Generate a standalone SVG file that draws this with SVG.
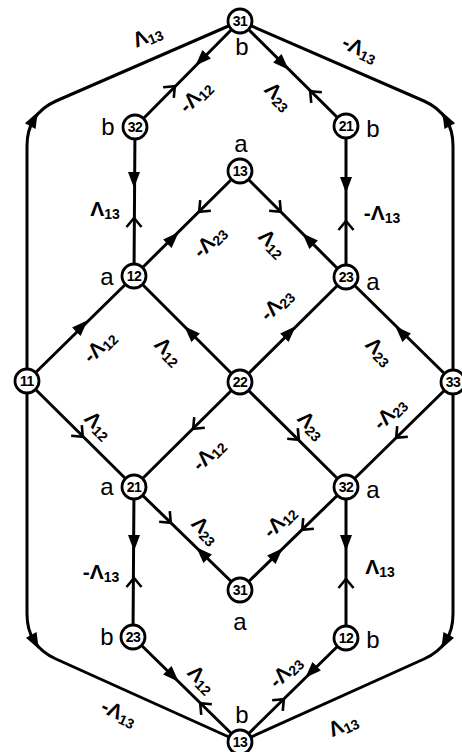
<svg xmlns="http://www.w3.org/2000/svg" xmlns:xlink="http://www.w3.org/1999/xlink" width="462" height="752" viewBox="0 0 462 752">
<style>
.e{fill:none;stroke:#000;stroke-width:3;stroke-linejoin:round}
.n circle{fill:#fff;stroke:#000;stroke-width:2.8}
.n text{font-family:"Liberation Sans",Arial,sans-serif;font-weight:bold;font-size:14px;text-anchor:middle;letter-spacing:-0.5px}
.s{font-family:"Liberation Sans",Arial,sans-serif;font-size:24px;text-anchor:middle}
.l{font-family:"Liberation Sans",Arial,sans-serif;font-weight:bold;font-size:21px;text-anchor:middle}
.l tspan{font-size:14px}
</style>
<defs>
<path id="fa" d="M8,0 L-8,-6 L-8,6 Z" fill="#000"/>
<path id="oa" d="M-5,-7.5 L4,0 L-5,7.5" fill="none" stroke="#000" stroke-width="2.6" stroke-linejoin="miter"/>
</defs>
<rect width="462" height="752" fill="#fff"/>
<g id="connectors">
<path class="e" d="M240,21 L56,101 Q27,114 27,146 L27,381"/>
<path class="e" d="M240,21 L424,101 Q453,114 453,146 L453,382"/>
<path class="e" d="M27,381 L27,614 Q27,646 56,659 L240,742"/>
<path class="e" d="M453,382 L453,614 Q453,646 424,659 L240,742"/>
<path class="e" d="M240,21 L135,127 L134,276 L240,171 L346,277 L346,126 L240,21"/>
<path class="e" d="M27,381 L134,276 L240,382 L346,277 L453,382 L346,487 L240,382 L134,487 L27,381"/>
<path class="e" d="M134,487 L240,590 L346,487 L346,638 L240,742 L133,637 L134,487"/>
<use href="#fa" transform="translate(34,119) rotate(-62)"/>
<use href="#fa" transform="translate(446,119) rotate(-118)"/>
<use href="#fa" transform="translate(35,642) rotate(62)"/>
<use href="#fa" transform="translate(445,642) rotate(118)"/>
<use href="#fa" transform="translate(201,60) rotate(135)"/>
<use href="#oa" transform="translate(172,89) rotate(-45)"/>
<use href="#fa" transform="translate(283,64) rotate(45)"/>
<use href="#oa" transform="translate(313,94) rotate(-135)"/>
<use href="#fa" transform="translate(134,180) rotate(90)"/>
<use href="#oa" transform="translate(134,222) rotate(-90)"/>
<use href="#fa" transform="translate(346,185) rotate(90)"/>
<use href="#oa" transform="translate(346,225) rotate(-90)"/>
<use href="#oa" transform="translate(202,209) rotate(135)"/>
<use href="#fa" transform="translate(173,238) rotate(-45)"/>
<use href="#oa" transform="translate(278,209) rotate(45)"/>
<use href="#fa" transform="translate(308,239) rotate(-135)"/>
<use href="#fa" transform="translate(82,326) rotate(-45)"/>
<use href="#fa" transform="translate(190,332) rotate(-135)"/>
<use href="#fa" transform="translate(290,332) rotate(-45)"/>
<use href="#fa" transform="translate(401,332) rotate(-135)"/>
<use href="#oa" transform="translate(80,434) rotate(45)"/>
<use href="#oa" transform="translate(196,426) rotate(135)"/>
<use href="#oa" transform="translate(296,437) rotate(45)"/>
<use href="#oa" transform="translate(399,435) rotate(135)"/>
<use href="#fa" transform="translate(134,543) rotate(90)"/>
<use href="#oa" transform="translate(134,582) rotate(-90)"/>
<use href="#fa" transform="translate(346,543) rotate(90)"/>
<use href="#oa" transform="translate(346,583) rotate(-90)"/>
<use href="#oa" transform="translate(168,520) rotate(45)"/>
<use href="#fa" transform="translate(202,553) rotate(-135)"/>
<use href="#oa" transform="translate(305,527) rotate(135)"/>
<use href="#fa" transform="translate(277,554) rotate(-45)"/>
<use href="#fa" transform="translate(173,676) rotate(45)"/>
<use href="#oa" transform="translate(203,706) rotate(-135)"/>
<use href="#fa" transform="translate(311,672) rotate(135)"/>
<use href="#oa" transform="translate(281,702) rotate(-45)"/>
</g>
<g id="edge-labels">
<text class="l" transform="translate(150,42) rotate(-23)">Λ<tspan dy="3">13</tspan></text>
<text class="l" transform="translate(357,55) rotate(25)">-Λ<tspan dy="3">13</tspan></text>
<text class="l" transform="translate(116,719) rotate(25)">-Λ<tspan dy="3">13</tspan></text>
<text class="l" transform="translate(346,731) rotate(-25)">Λ<tspan dy="3">13</tspan></text>
<text class="l" transform="translate(196,97) rotate(-45) translate(0,6)">-Λ<tspan dy="3">12</tspan></text>
<text class="l" transform="translate(278,97) rotate(45) translate(0,6)">Λ<tspan dy="3">23</tspan></text>
<text class="l" transform="translate(105,216)">Λ<tspan dy="3">13</tspan></text>
<text class="l" transform="translate(382,220)">-Λ<tspan dy="3">13</tspan></text>
<text class="l" transform="translate(210,242) rotate(-45) translate(0,6)">-Λ<tspan dy="3">23</tspan></text>
<text class="l" transform="translate(272,244) rotate(45) translate(0,6)">Λ<tspan dy="3">12</tspan></text>
<text class="l" transform="translate(100,347) rotate(-45) translate(0,6)">-Λ<tspan dy="3">12</tspan></text>
<text class="l" transform="translate(168,352) rotate(45) translate(0,6)">Λ<tspan dy="3">12</tspan></text>
<text class="l" transform="translate(277,305) rotate(-45) translate(0,6)">-Λ<tspan dy="3">23</tspan></text>
<text class="l" transform="translate(379,352) rotate(45) translate(0,6)">Λ<tspan dy="3">23</tspan></text>
<text class="l" transform="translate(98,426) rotate(45) translate(0,6)">Λ<tspan dy="3">12</tspan></text>
<text class="l" transform="translate(209,455) rotate(-45) translate(0,6)">-Λ<tspan dy="3">12</tspan></text>
<text class="l" transform="translate(311,426) rotate(45) translate(0,6)">Λ<tspan dy="3">23</tspan></text>
<text class="l" transform="translate(390,414) rotate(-45) translate(0,6)">-Λ<tspan dy="3">23</tspan></text>
<text class="l" transform="translate(101,579)">-Λ<tspan dy="3">13</tspan></text>
<text class="l" transform="translate(380,574)">Λ<tspan dy="3">13</tspan></text>
<text class="l" transform="translate(205,531) rotate(45) translate(0,6)">Λ<tspan dy="3">23</tspan></text>
<text class="l" transform="translate(280,522) rotate(-45) translate(0,6)">-Λ<tspan dy="3">12</tspan></text>
<text class="l" transform="translate(201,680) rotate(45) translate(0,6)">Λ<tspan dy="3">12</tspan></text>
<text class="l" transform="translate(286,672) rotate(-45) translate(0,6)">-Λ<tspan dy="3">23</tspan></text>
</g>
<g id="n31top" class="n"><circle cx="240" cy="21" r="12"/><text x="240" y="26">31</text></g>
<text class="s" x="242" y="55">b</text>
<g id="n32b" class="n"><circle cx="135" cy="127" r="12"/><text x="135" y="132">32</text></g>
<text class="s" x="108" y="135">b</text>
<g id="n21b" class="n"><circle cx="346" cy="126" r="12"/><text x="346" y="131">21</text></g>
<text class="s" x="373" y="137">b</text>
<g id="n13a" class="n"><circle cx="240" cy="171" r="12"/><text x="240" y="176">13</text></g>
<text class="s" x="241" y="152">a</text>
<g id="n12a" class="n"><circle cx="134" cy="276" r="12"/><text x="134" y="281">12</text></g>
<text class="s" x="107" y="285">a</text>
<g id="n23a" class="n"><circle cx="346" cy="277" r="12"/><text x="346" y="282">23</text></g>
<text class="s" x="373" y="290">a</text>
<g id="n11" class="n"><circle cx="27" cy="381" r="12"/><text x="27" y="386">11</text></g>
<g id="n22" class="n"><circle cx="240" cy="382" r="12"/><text x="240" y="387">22</text></g>
<g id="n33" class="n"><circle cx="453" cy="382" r="12"/><text x="453" y="387">33</text></g>
<g id="n21a" class="n"><circle cx="134" cy="487" r="12"/><text x="134" y="492">21</text></g>
<text class="s" x="107" y="495">a</text>
<g id="n32a" class="n"><circle cx="346" cy="487" r="12"/><text x="346" y="492">32</text></g>
<text class="s" x="373" y="498">a</text>
<g id="n31a" class="n"><circle cx="240" cy="590" r="12"/><text x="240" y="595">31</text></g>
<text class="s" x="240" y="630">a</text>
<g id="n23b" class="n"><circle cx="133" cy="637" r="12"/><text x="133" y="642">23</text></g>
<text class="s" x="107" y="645">b</text>
<g id="n12b" class="n"><circle cx="346" cy="638" r="12"/><text x="346" y="643">12</text></g>
<text class="s" x="373" y="648">b</text>
<g id="n13bot" class="n"><circle cx="240" cy="742" r="12"/><text x="240" y="747">13</text></g>
<text class="s" x="242" y="723">b</text>
</svg>
